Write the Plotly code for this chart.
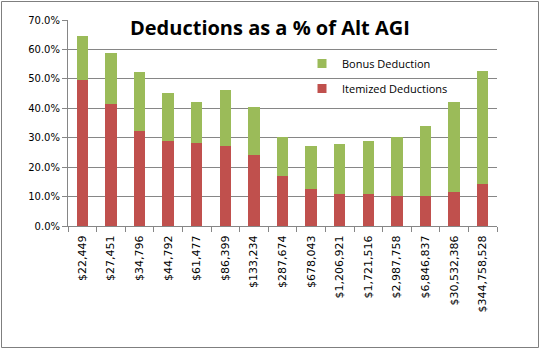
import plotly.graph_objects as go

categories = ["$22,449", "$27,451", "$34,796", "$44,792", "$61,477", "$86,399",
              "$133,234", "$287,674", "$678,043", "$1,206,921", "$1,721,516",
              "$2,987,758", "$6,846,837", "$30,532,386", "$344,758,528"]
itemized = [0.496, 0.414, 0.323, 0.289, 0.282, 0.273, 0.242, 0.170, 0.126,
            0.109, 0.109, 0.102, 0.102, 0.116, 0.143]
total = [0.647, 0.589, 0.524, 0.452, 0.421, 0.462, 0.403, 0.301, 0.273,
         0.279, 0.289, 0.304, 0.340, 0.421, 0.527]
bonus = [round(t - i, 4) for t, i in zip(total, itemized)]
y_ticks = [0, 0.1, 0.2, 0.3, 0.4, 0.5, 0.6, 0.7]

RED = "#C0504D"
GREEN = "#9BBB59"

W, H = 541, 350
L, R, T, B = 68, 44, 20, 124
pw, ph = W - L - R, H - T - B

def px(x):
    return (x - L) / pw

def py(y):
    return (H - B - y) / ph

fig = go.Figure()
fig.add_trace(go.Bar(x=categories, y=itemized, name="Itemized Deductions",
                     marker=dict(color=RED, line=dict(width=0)), showlegend=False))
fig.add_trace(go.Bar(x=categories, y=bonus, name="Bonus Deduction",
                     marker=dict(color=GREEN, line=dict(width=0)), showlegend=False))
# legend entries (small square keys)
fig.add_trace(go.Scatter(x=[None], y=[None], mode="markers", name="Bonus Deduction",
                         legendgroup="b", legendrank=1,
                         marker=dict(symbol="square", size=9, color=GREEN)))
fig.add_trace(go.Scatter(x=[None], y=[None], mode="markers", name="Itemized Deductions",
                         legendgroup="a", legendrank=2,
                         marker=dict(symbol="square", size=9, color=RED)))

fig.update_layout(
    width=W, height=H,
    margin=dict(l=L, r=R, t=T, b=B),
    barmode="stack", bargap=0.6,
    paper_bgcolor="white", plot_bgcolor="white",
    font=dict(family="DejaVu Sans", size=10, color="#000000"),
    showlegend=True,
    legend=dict(x=px(302), y=py(49), xanchor="left", yanchor="top",
                tracegroupgap=6, bgcolor="rgba(0,0,0,0)",
                font=dict(family="Open Sans", size=11, color="#000000")),
    annotations=[dict(text="<b>Deductions as a % of Alt AGI</b>", xref="paper", yref="paper",
                      x=px(270), y=py(28), xanchor="center", yanchor="middle",
                      showarrow=False,
                      font=dict(family="Open Sans", size=20, color="#000000"))],
    shapes=[dict(type="rect", xref="paper", yref="paper",
                 x0=px(1.5), x1=px(538.5), y0=py(347.5), y1=py(1.5),
                 line=dict(color="#7F7F7F", width=1), fillcolor="rgba(0,0,0,0)",
                 layer="below")],
)
fig.update_xaxes(type="category", showline=True, linecolor="#868686", linewidth=1,
                 ticks="outside", tickson="boundaries", ticklen=5, tickcolor="#868686",
                 tickangle=-90, tickfont=dict(family="DejaVu Sans", size=11),
                 ticklabelstandoff=4,
                 showgrid=False, fixedrange=True)
fig.update_yaxes(range=[0, 0.7], tickvals=y_ticks, tickformat=".1%",
                 showline=True, linecolor="#868686", linewidth=1,
                 ticks="outside", ticklen=5, tickcolor="#868686",
                 showgrid=True, gridcolor="#868686", gridwidth=1,
                 zeroline=False, tickfont=dict(family="DejaVu Sans", size=10))

fig.write_html("out.html")
